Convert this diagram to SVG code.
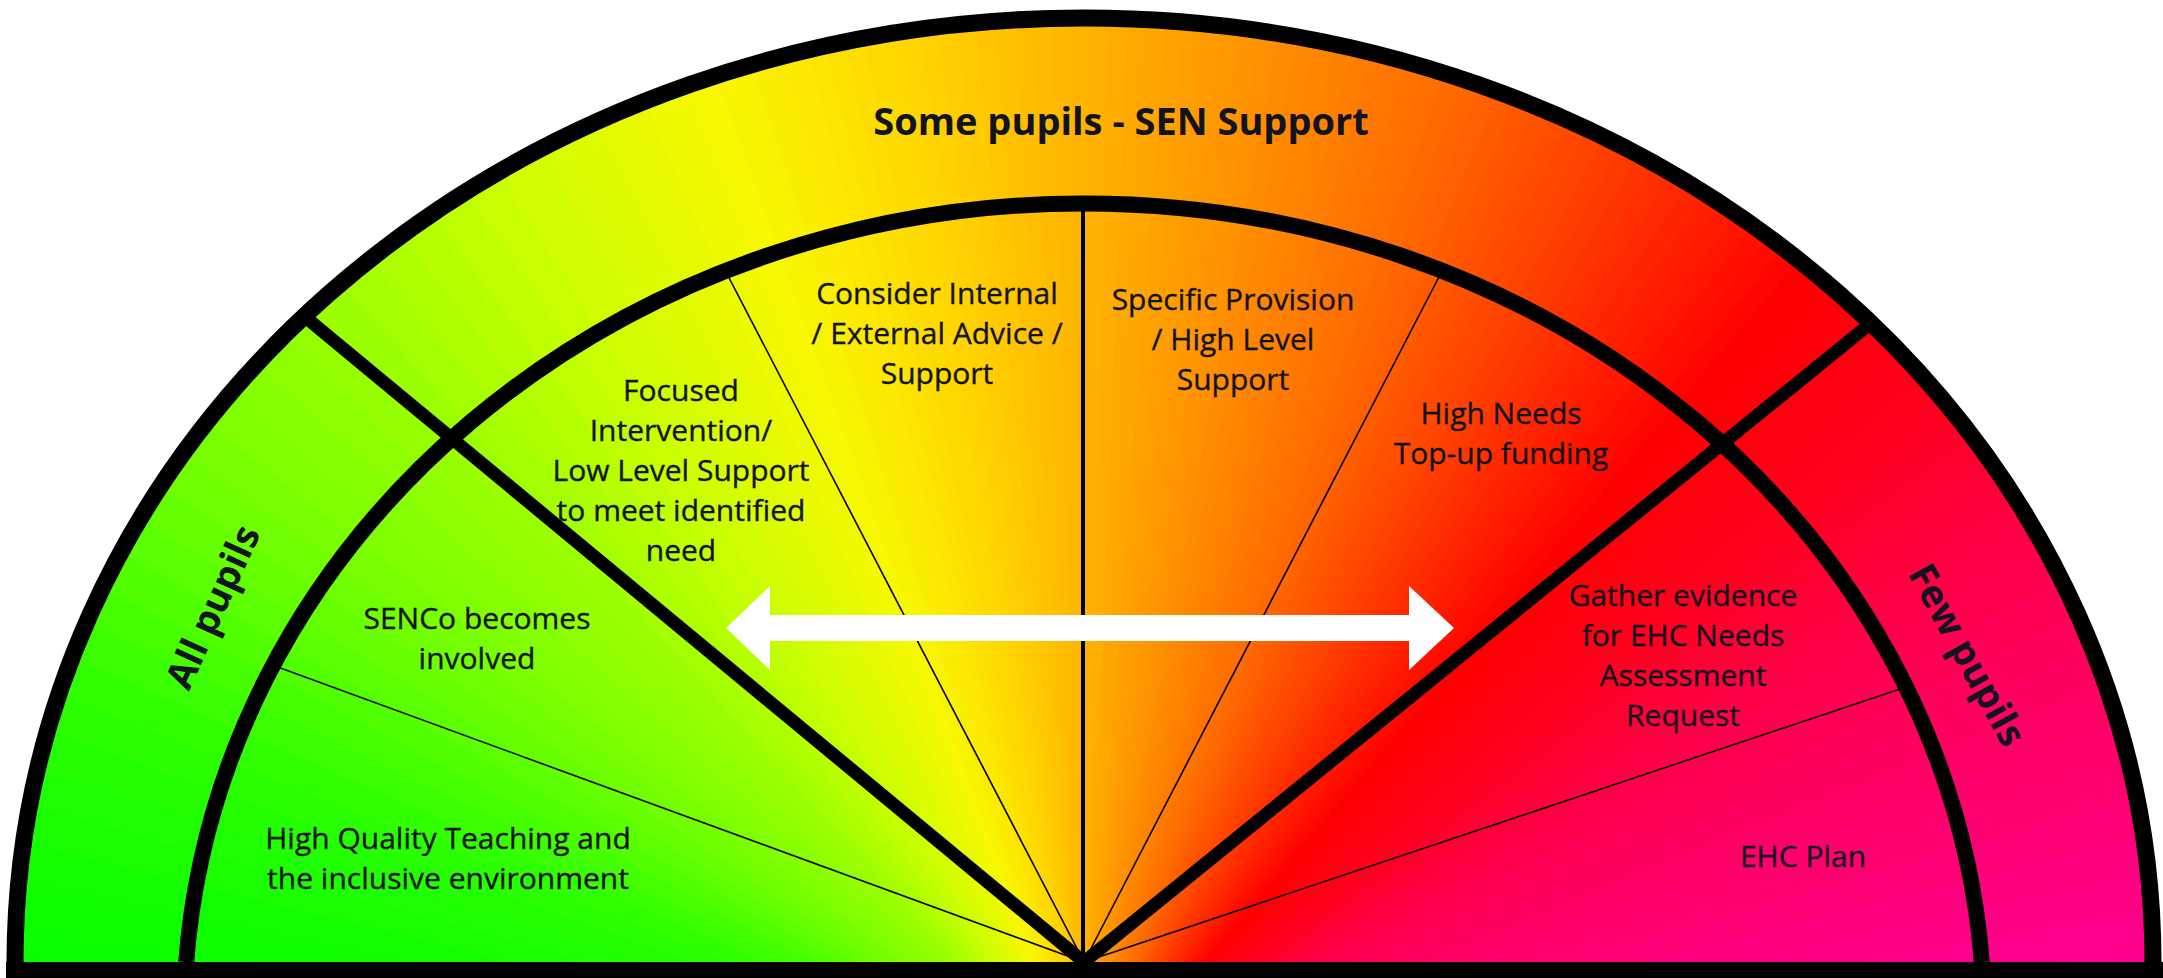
<svg xmlns="http://www.w3.org/2000/svg" xmlns:xlink="http://www.w3.org/1999/xlink" width="2163" height="978" viewBox="0 0 2163 978">
<style>
.lbl{font-family:"Open Sans","Liberation Sans",sans-serif;font-size:30px;fill:#111420;text-anchor:middle;stroke:#111420;stroke-width:0.35px}
.big{font-family:"Open Sans","Liberation Sans",sans-serif;font-size:38px;font-weight:700;fill:#111420;text-anchor:middle}
.thin{stroke:#000;stroke-width:1.6;fill:none}
.thick{stroke:#000;stroke-width:13;fill:none}
.arc{stroke:#000;fill:none}
</style>
<defs>
<clipPath id="outerClip"><path d="M15 962 A1069 944 0 0 1 2153 962 Z"/></clipPath>
<path id="w" d="M0 0 L1800 0 L1800 -70 Z"/>
<path id="v" d="M0 0 L1800 0 L1800 -38 Z"/>
</defs>
<rect width="2163" height="978" fill="#ffffff"/>
<g id="gauge-fill" clip-path="url(#outerClip)">
<g transform="translate(1084,1103)">
<use xlink:href="#w" href="#w" transform="rotate(-178)" fill="#01ff00"/>
<use xlink:href="#w" href="#w" transform="rotate(-176)" fill="#04ff00"/>
<use xlink:href="#w" href="#w" transform="rotate(-174)" fill="#07ff00"/>
<use xlink:href="#w" href="#w" transform="rotate(-172)" fill="#09ff00"/>
<use xlink:href="#w" href="#w" transform="rotate(-170)" fill="#0cff00"/>
<use xlink:href="#w" href="#w" transform="rotate(-168)" fill="#0fff00"/>
<use xlink:href="#w" href="#w" transform="rotate(-166)" fill="#13ff00"/>
<use xlink:href="#w" href="#w" transform="rotate(-164)" fill="#19ff00"/>
<use xlink:href="#w" href="#w" transform="rotate(-162)" fill="#1eff00"/>
<use xlink:href="#w" href="#w" transform="rotate(-160)" fill="#24ff00"/>
<use xlink:href="#w" href="#w" transform="rotate(-158)" fill="#2aff00"/>
<use xlink:href="#w" href="#w" transform="rotate(-156)" fill="#30ff00"/>
<use xlink:href="#w" href="#w" transform="rotate(-154)" fill="#3bff00"/>
<use xlink:href="#w" href="#w" transform="rotate(-152)" fill="#45ff00"/>
<use xlink:href="#w" href="#w" transform="rotate(-150)" fill="#50ff00"/>
<use xlink:href="#w" href="#w" transform="rotate(-148)" fill="#5bff00"/>
<use xlink:href="#w" href="#w" transform="rotate(-146)" fill="#65ff00"/>
<use xlink:href="#w" href="#w" transform="rotate(-144)" fill="#70ff00"/>
<use xlink:href="#w" href="#w" transform="rotate(-142)" fill="#77ff00"/>
<use xlink:href="#w" href="#w" transform="rotate(-140)" fill="#7fff00"/>
<use xlink:href="#w" href="#w" transform="rotate(-138)" fill="#86ff00"/>
<use xlink:href="#w" href="#w" transform="rotate(-136)" fill="#8eff00"/>
<use xlink:href="#w" href="#w" transform="rotate(-134)" fill="#95ff00"/>
<use xlink:href="#w" href="#w" transform="rotate(-132)" fill="#9cff00"/>
<use xlink:href="#w" href="#w" transform="rotate(-130)" fill="#a4ff00"/>
<use xlink:href="#w" href="#w" transform="rotate(-128)" fill="#adff00"/>
<use xlink:href="#w" href="#w" transform="rotate(-126)" fill="#b6ff00"/>
<use xlink:href="#w" href="#w" transform="rotate(-124)" fill="#bfff00"/>
<use xlink:href="#w" href="#w" transform="rotate(-122)" fill="#c8ff00"/>
<use xlink:href="#w" href="#w" transform="rotate(-120)" fill="#d0fe00"/>
<use xlink:href="#v" href="#v" transform="rotate(-119.5)" fill="#d3fe00"/>
<use xlink:href="#v" href="#v" transform="rotate(-118.5)" fill="#d7fd00"/>
<use xlink:href="#v" href="#v" transform="rotate(-117.5)" fill="#dbfc00"/>
<use xlink:href="#v" href="#v" transform="rotate(-116.5)" fill="#defc00"/>
<use xlink:href="#v" href="#v" transform="rotate(-115.5)" fill="#e2fb00"/>
<use xlink:href="#v" href="#v" transform="rotate(-114.5)" fill="#e6fb00"/>
<use xlink:href="#v" href="#v" transform="rotate(-113.5)" fill="#e9fa00"/>
<use xlink:href="#v" href="#v" transform="rotate(-112.5)" fill="#edfa00"/>
<use xlink:href="#v" href="#v" transform="rotate(-111.5)" fill="#f1f900"/>
<use xlink:href="#v" href="#v" transform="rotate(-110.5)" fill="#f4f900"/>
<use xlink:href="#v" href="#v" transform="rotate(-109.5)" fill="#f8f800"/>
<use xlink:href="#v" href="#v" transform="rotate(-108.5)" fill="#f9f500"/>
<use xlink:href="#v" href="#v" transform="rotate(-107.5)" fill="#f9f200"/>
<use xlink:href="#v" href="#v" transform="rotate(-106.5)" fill="#faee00"/>
<use xlink:href="#v" href="#v" transform="rotate(-105.5)" fill="#fbeb00"/>
<use xlink:href="#v" href="#v" transform="rotate(-104.5)" fill="#fce800"/>
<use xlink:href="#v" href="#v" transform="rotate(-103.5)" fill="#fce500"/>
<use xlink:href="#v" href="#v" transform="rotate(-102.5)" fill="#fde200"/>
<use xlink:href="#v" href="#v" transform="rotate(-101.5)" fill="#fede00"/>
<use xlink:href="#v" href="#v" transform="rotate(-100.5)" fill="#fedb00"/>
<use xlink:href="#v" href="#v" transform="rotate(-99.5)" fill="#ffd800"/>
<use xlink:href="#v" href="#v" transform="rotate(-98.5)" fill="#ffd400"/>
<use xlink:href="#v" href="#v" transform="rotate(-97.5)" fill="#ffd100"/>
<use xlink:href="#v" href="#v" transform="rotate(-96.5)" fill="#ffcd00"/>
<use xlink:href="#v" href="#v" transform="rotate(-95.5)" fill="#ffca00"/>
<use xlink:href="#v" href="#v" transform="rotate(-94.5)" fill="#ffc600"/>
<use xlink:href="#v" href="#v" transform="rotate(-93.5)" fill="#ffc200"/>
<use xlink:href="#v" href="#v" transform="rotate(-92.5)" fill="#ffbf00"/>
<use xlink:href="#v" href="#v" transform="rotate(-91.5)" fill="#ffbb00"/>
<use xlink:href="#v" href="#v" transform="rotate(-90.5)" fill="#ffb800"/>
<use xlink:href="#v" href="#v" transform="rotate(-89.5)" fill="#ffb400"/>
<use xlink:href="#v" href="#v" transform="rotate(-88.5)" fill="#ffb000"/>
<use xlink:href="#v" href="#v" transform="rotate(-87.5)" fill="#ffad00"/>
<use xlink:href="#v" href="#v" transform="rotate(-86.5)" fill="#ffa900"/>
<use xlink:href="#v" href="#v" transform="rotate(-85.5)" fill="#ffa600"/>
<use xlink:href="#v" href="#v" transform="rotate(-84.5)" fill="#ffa200"/>
<use xlink:href="#v" href="#v" transform="rotate(-83.5)" fill="#ff9e00"/>
<use xlink:href="#v" href="#v" transform="rotate(-82.5)" fill="#ff9b00"/>
<use xlink:href="#v" href="#v" transform="rotate(-81.5)" fill="#ff9700"/>
<use xlink:href="#v" href="#v" transform="rotate(-80.5)" fill="#ff9400"/>
<use xlink:href="#v" href="#v" transform="rotate(-79.5)" fill="#ff9000"/>
<use xlink:href="#v" href="#v" transform="rotate(-78.5)" fill="#ff8c00"/>
<use xlink:href="#v" href="#v" transform="rotate(-77.5)" fill="#ff8800"/>
<use xlink:href="#v" href="#v" transform="rotate(-76.5)" fill="#ff8500"/>
<use xlink:href="#v" href="#v" transform="rotate(-75.5)" fill="#ff8100"/>
<use xlink:href="#v" href="#v" transform="rotate(-74.5)" fill="#ff7d00"/>
<use xlink:href="#v" href="#v" transform="rotate(-73.5)" fill="#ff7900"/>
<use xlink:href="#v" href="#v" transform="rotate(-72.5)" fill="#ff7500"/>
<use xlink:href="#v" href="#v" transform="rotate(-71.5)" fill="#ff7200"/>
<use xlink:href="#v" href="#v" transform="rotate(-70.5)" fill="#ff6e00"/>
<use xlink:href="#v" href="#v" transform="rotate(-69.5)" fill="#ff6a00"/>
<use xlink:href="#v" href="#v" transform="rotate(-68.5)" fill="#ff6500"/>
<use xlink:href="#v" href="#v" transform="rotate(-67.5)" fill="#ff6000"/>
<use xlink:href="#v" href="#v" transform="rotate(-66.5)" fill="#ff5c00"/>
<use xlink:href="#v" href="#v" transform="rotate(-65.5)" fill="#ff5700"/>
<use xlink:href="#v" href="#v" transform="rotate(-64.5)" fill="#ff5200"/>
<use xlink:href="#v" href="#v" transform="rotate(-63.5)" fill="#ff4d00"/>
<use xlink:href="#v" href="#v" transform="rotate(-62.5)" fill="#ff4800"/>
<use xlink:href="#v" href="#v" transform="rotate(-61.5)" fill="#ff4400"/>
<use xlink:href="#v" href="#v" transform="rotate(-60.5)" fill="#ff3f00"/>
<use xlink:href="#v" href="#v" transform="rotate(-59.5)" fill="#ff3a00"/>
<use xlink:href="#v" href="#v" transform="rotate(-58.5)" fill="#ff3500"/>
<use xlink:href="#v" href="#v" transform="rotate(-57.5)" fill="#ff2f00"/>
<use xlink:href="#v" href="#v" transform="rotate(-56.5)" fill="#ff2a00"/>
<use xlink:href="#v" href="#v" transform="rotate(-55.5)" fill="#ff2500"/>
<use xlink:href="#v" href="#v" transform="rotate(-54.5)" fill="#ff2000"/>
<use xlink:href="#v" href="#v" transform="rotate(-53.5)" fill="#ff1a00"/>
<use xlink:href="#v" href="#v" transform="rotate(-52.5)" fill="#ff1500"/>
<use xlink:href="#v" href="#v" transform="rotate(-51.5)" fill="#ff1000"/>
<use xlink:href="#v" href="#v" transform="rotate(-50.5)" fill="#ff0b00"/>
<use xlink:href="#v" href="#v" transform="rotate(-49.5)" fill="#ff0500"/>
<use xlink:href="#v" href="#v" transform="rotate(-48.5)" fill="#ff0000"/>
<use xlink:href="#v" href="#v" transform="rotate(-47.5)" fill="#ff0003"/>
<use xlink:href="#v" href="#v" transform="rotate(-46.5)" fill="#ff0006"/>
<use xlink:href="#v" href="#v" transform="rotate(-45.5)" fill="#ff000a"/>
<use xlink:href="#v" href="#v" transform="rotate(-44.5)" fill="#ff000d"/>
<use xlink:href="#v" href="#v" transform="rotate(-43.5)" fill="#ff0010"/>
<use xlink:href="#v" href="#v" transform="rotate(-42.5)" fill="#ff0013"/>
<use xlink:href="#v" href="#v" transform="rotate(-41.5)" fill="#ff0016"/>
<use xlink:href="#v" href="#v" transform="rotate(-40.5)" fill="#ff001a"/>
<use xlink:href="#v" href="#v" transform="rotate(-39.5)" fill="#ff001d"/>
<use xlink:href="#v" href="#v" transform="rotate(-38.5)" fill="#ff0020"/>
<use xlink:href="#v" href="#v" transform="rotate(-37.5)" fill="#ff0025"/>
<use xlink:href="#v" href="#v" transform="rotate(-36.5)" fill="#ff002a"/>
<use xlink:href="#v" href="#v" transform="rotate(-35.5)" fill="#ff002f"/>
<use xlink:href="#v" href="#v" transform="rotate(-34.5)" fill="#ff0034"/>
<use xlink:href="#v" href="#v" transform="rotate(-33.5)" fill="#ff003a"/>
<use xlink:href="#v" href="#v" transform="rotate(-32.5)" fill="#ff003e"/>
<use xlink:href="#v" href="#v" transform="rotate(-31.5)" fill="#ff0042"/>
<use xlink:href="#v" href="#v" transform="rotate(-30.5)" fill="#ff0047"/>
<use xlink:href="#v" href="#v" transform="rotate(-29.5)" fill="#ff004a"/>
<use xlink:href="#w" href="#w" transform="rotate(-28)" fill="#ff004e"/>
<use xlink:href="#w" href="#w" transform="rotate(-26)" fill="#ff0055"/>
<use xlink:href="#w" href="#w" transform="rotate(-24)" fill="#ff005b"/>
<use xlink:href="#w" href="#w" transform="rotate(-22)" fill="#ff0061"/>
<use xlink:href="#w" href="#w" transform="rotate(-20)" fill="#ff0067"/>
<use xlink:href="#w" href="#w" transform="rotate(-18)" fill="#ff006c"/>
<use xlink:href="#w" href="#w" transform="rotate(-16)" fill="#ff0070"/>
<use xlink:href="#w" href="#w" transform="rotate(-14)" fill="#ff0077"/>
<use xlink:href="#w" href="#w" transform="rotate(-12)" fill="#ff007e"/>
<use xlink:href="#w" href="#w" transform="rotate(-10)" fill="#ff0085"/>
<use xlink:href="#w" href="#w" transform="rotate(-8)" fill="#ff008c"/>
<use xlink:href="#w" href="#w" transform="rotate(-6)" fill="#ff0092"/>
<use xlink:href="#w" href="#w" transform="rotate(-4)" fill="#ff0096"/>
<use xlink:href="#w" href="#w" transform="rotate(-2)" fill="#ff009a"/>
<use xlink:href="#w" href="#w" transform="rotate(0)" fill="#ff009e"/>
</g>
</g>
<g id="connectors">
<line class="thin" x1="1084" y1="962" x2="726" y2="272"/>
<line class="thin" x1="1084" y1="962" x2="1441" y2="273"/>
<line class="thin" x1="1084" y1="962" x2="275" y2="666"/>
<line class="thin" x1="1084" y1="962" x2="1903" y2="688"/>
<line stroke="#000" stroke-width="4" x1="1083" y1="205" x2="1083" y2="962"/>
<line class="thick" x1="1084" y1="962" x2="304" y2="316"/>
<line class="thick" x1="1084" y1="962" x2="1871" y2="323"/>
</g>
<g id="inner-arc">
<path class="arc" stroke-width="16" d="M186.2 962 A900 815.6 0 0 1 1981.8 962"/>
</g>
<g id="outer-arc">
<path class="arc" stroke-width="17" d="M15 962 A1069 944 0 0 1 2153 962"/>
</g>
<g id="baseline">
<rect x="6" y="962" width="2157" height="16" fill="#000"/>
</g>
<g id="double-arrow">
<polygon fill="#ffffff" points="726,628 770,586 770,615 1409,615 1409,586 1454,628 1409,670 1409,641 770,641 770,670"/>
</g>
<g id="label-some-pupils"><text class="big" x="1121" y="135">Some pupils - SEN Support</text></g>
<g id="label-all-pupils"><text class="big" transform="translate(213,607) rotate(-65.5)" x="0" y="13">All pupils</text></g>
<g id="label-few-pupils"><text class="big" transform="translate(1967,655) rotate(61.2)" x="0" y="13">Few pupils</text></g>
<g id="node-high-quality"><text class="lbl" x="448" y="849">High Quality Teaching and</text><text class="lbl" x="448" y="889">the inclusive environment</text></g>
<g id="node-senco"><text class="lbl" x="477" y="629">SENCo becomes</text><text class="lbl" x="477" y="669">involved</text></g>
<g id="node-focused"><text class="lbl" x="681" y="401">Focused</text><text class="lbl" x="681" y="441">Intervention/</text><text class="lbl" x="681" y="481">Low Level Support</text><text class="lbl" x="681" y="521">to meet identified</text><text class="lbl" x="681" y="561">need</text></g>
<g id="node-consider"><text class="lbl" x="937" y="304">Consider Internal</text><text class="lbl" x="937" y="344">/ External Advice /</text><text class="lbl" x="937" y="384">Support</text></g>
<g id="node-specific"><text class="lbl" x="1233" y="310">Specific Provision</text><text class="lbl" x="1233" y="350">/ High Level</text><text class="lbl" x="1233" y="390">Support</text></g>
<g id="node-high-needs"><text class="lbl" x="1501" y="424">High Needs</text><text class="lbl" x="1501" y="464">Top-up funding</text></g>
<g id="node-gather"><text class="lbl" x="1683" y="606">Gather evidence</text><text class="lbl" x="1683" y="646">for EHC Needs</text><text class="lbl" x="1683" y="686">Assessment</text><text class="lbl" x="1683" y="726">Request</text></g>
<g id="node-ehc-plan"><text class="lbl" x="1803" y="867">EHC Plan</text></g>
</svg>
